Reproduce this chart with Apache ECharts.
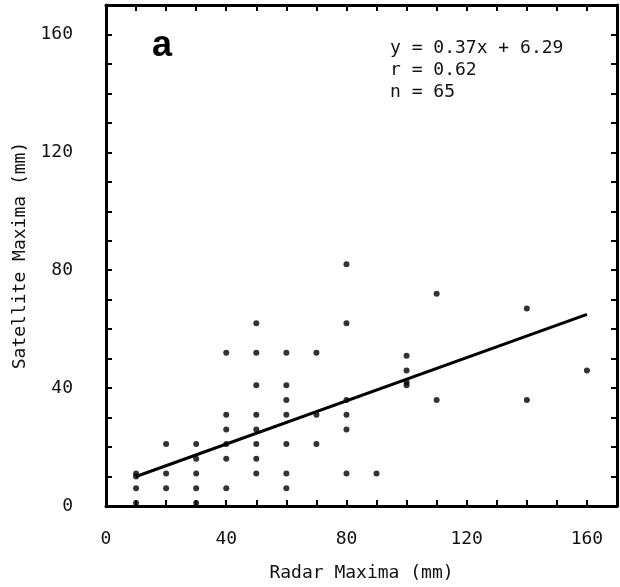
<!DOCTYPE html>
<html>
<head>
<meta charset="utf-8">
<script src="https://cdn.jsdelivr.net/npm/echarts@6/dist/echarts.min.js"></script>
<style>
  html, body { margin: 0; padding: 0; background: #fff; }
  #scatterChart { width: 620px; height: 587px; }
</style>
</head>
<body>
<div id="scatterChart"></div>
<script>
// radar vs satellite maxima (mm)
var radarMax = [10, 10, 10, 10,
    20, 20, 20,
    30, 30, 30, 30, 30,
    40, 40, 40, 40, 40, 40,
    50, 50, 50, 50, 50, 50, 50, 50,
    60, 60, 60, 60, 60, 60, 60,
    70, 70, 70,
    80, 80, 80, 80, 80, 80,
    90,
    100, 100, 100, 100,
    110, 110,
    140, 140,
    160];
var satelliteMax = [11, 10, 6, 1,
    21, 11, 6,
    21, 16, 11, 6, 1,
    52, 31, 26, 21, 16, 6,
    62, 52, 41, 31, 26, 21, 16, 11,
    52, 41, 36, 31, 21, 11, 6,
    52, 31, 21,
    82, 62, 36, 31, 26, 11,
    11,
    51, 46, 42, 41,
    72, 36,
    67, 36,
    46];

// end points of the fitted line
var fitX = [10, 160];
var fitY = [10, 65];

var axisTicks = [0, 40, 80, 120, 160];
var fitText = ['y = 0.37x + 6.29', 'r = 0.62', 'n = 65'];
var panelLetter = 'a';

var points = [];
for (var i = 0; i < radarMax.length; i++) {
    points.push([radarMax[i], satelliteMax[i]]);
}
var fitLine = [];
for (var j = 0; j < fitX.length; j++) {
    fitLine.push([fitX[j], fitY[j]]);
}

var monoFont = 'DejaVu Sans Mono';

function tickLabel(v) {
    return axisTicks.indexOf(v) >= 0 ? String(v) : '';
}

function makeAxis(pos, showLabels, name) {
    return {
        type: 'value',
        position: pos,
        min: 0,
        max: 170,
        interval: 10,
        name: showLabels ? name : '',
        nameLocation: 'middle',
        nameGap: (pos === 'left') ? 76 : 58,
        nameTextStyle: { fontFamily: monoFont, fontSize: 18, color: '#111' },
        axisLine: { show: true, onZero: false, lineStyle: { color: '#000', width: 3 } },
        axisTick: { show: true, inside: true, length: 6, lineStyle: { color: '#000', width: 2 } },
        axisLabel: {
            show: showLabels,
            formatter: tickLabel,
            fontFamily: monoFont,
            fontSize: 18,
            color: '#111',
            margin: (pos === 'left') ? 33 : 24
        },
        splitLine: { show: false }
    };
}

var chart = echarts.init(document.getElementById('scatterChart'));
var option = {
    backgroundColor: '#fff',
    animation: false,
    grid: { left: 106, right: 3, top: 5, bottom: 80 },
    xAxis: [makeAxis('bottom', true, 'Radar Maxima (mm)'), makeAxis('top', false, '')],
    yAxis: [makeAxis('left', true, 'Satellite Maxima (mm)'), makeAxis('right', false, '')],
    graphic: [{
        type: 'text',
        left: 152,
        top: 28,
        style: { text: panelLetter, font: 'bold 36px "Liberation Sans"', fill: '#000' }
    }, {
        type: 'text',
        left: 390,
        top: 37,
        style: { text: fitText.join('\n'), font: '18px "DejaVu Sans Mono"', lineHeight: 22, fill: '#111' }
    }],
    series: [{
        type: 'scatter',
        xAxisIndex: 0,
        yAxisIndex: 0,
        symbolSize: 6,
        itemStyle: { color: '#000' },
        data: points
    }, {
        type: 'line',
        xAxisIndex: 0,
        yAxisIndex: 0,
        showSymbol: false,
        lineStyle: { color: '#000', width: 3 },
        data: fitLine
    }]
};
chart.setOption(option);
</script>
</body>
</html>
